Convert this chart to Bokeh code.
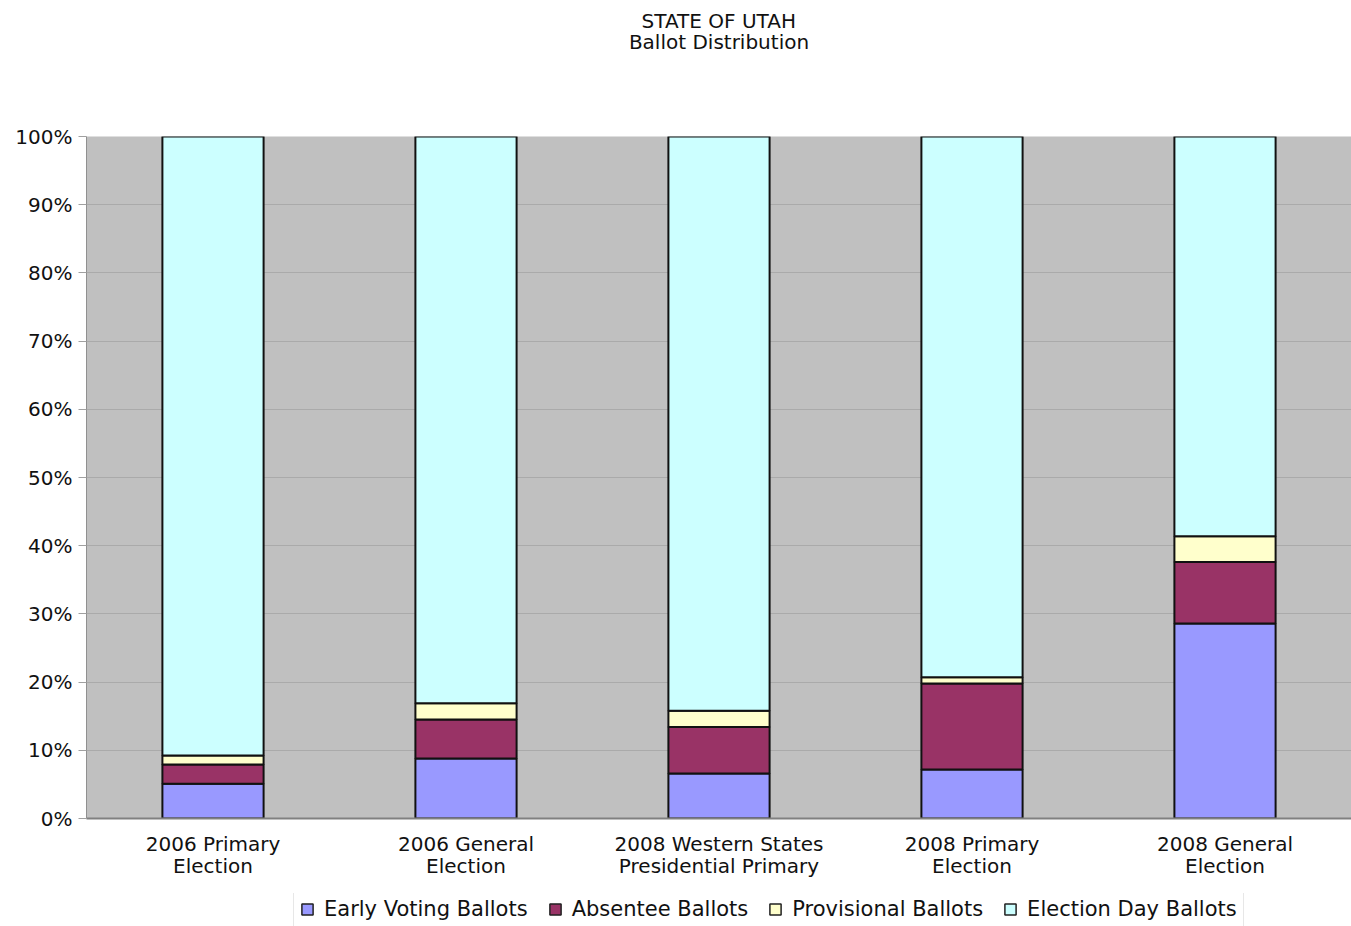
from bokeh.plotting import figure
from bokeh.models import FactorRange, Title, Legend, LegendItem, FixedTicker, Range1d
from bokeh.layouts import column
from bokeh.embed import file_html
from bokeh.resources import INLINE

categories = ["2006 Primary\nElection", "2006 General\nElection",
              "2008 Western States\nPresidential Primary",
              "2008 Primary\nElection", "2008 General\nElection"]
early_voting = [5.1, 8.8, 6.6, 7.2, 28.6]
absentee = [2.8, 5.7, 6.8, 12.6, 9.0]
provisional = [1.35, 2.4, 2.4, 0.9, 3.8]
election_day = [90.75, 83.1, 84.2, 79.3, 58.6]
series_names = ["Early Voting Ballots", "Absentee Ballots",
                "Provisional Ballots", "Election Day Ballots"]
colors = ["#9999ff", "#993366", "#ffffcc", "#ccffff"]
y_ticks = [0, 10, 20, 30, 40, 50, 60, 70, 80, 90, 100]
title_text = "\u00a0\u00a0STATE OF UTAH\nBallot Distribution"

FONT = "DejaVu Sans"

data = {"cat": categories, "early": early_voting, "absentee": absentee,
        "provisional": provisional, "election_day": election_day}
keys = ["early", "absentee", "provisional", "election_day"]

p = figure(x_range=FactorRange(*categories), y_range=(0, 100),
           width=1351, height=893,
           min_border_left=86, min_border_right=0,
           min_border_top=0, min_border_bottom=75,
           output_backend="svg", toolbar_location=None,
           border_fill_color="#ffffff", outline_line_color=None)
p.x_range.range_padding = 0
p.background_fill_color = "#c0c0c0"

renderers = p.vbar_stack(keys, x="cat", width=0.4, source=data,
                         fill_color=colors, line_color="#111111", line_width=2)

spacer = Title(text="\u00a0", text_font=FONT, text_font_size="20px", standoff=50)
p.add_layout(spacer, "above")
t = Title(text=title_text, align="center", text_font=FONT,
          text_font_size="20px", text_font_style="normal", text_color="#111111",
          text_line_height=0.9, standoff=12)
p.add_layout(t, "above")

# axes
p.yaxis.ticker = FixedTicker(ticks=y_ticks)
p.yaxis.major_label_overrides = {t: f"{t}%" for t in y_ticks}
p.yaxis.major_label_text_font = FONT
p.yaxis.major_label_text_font_size = "20px"
p.yaxis.major_label_text_color = "#111111"
p.yaxis.axis_line_color = "#909090"
p.yaxis.major_tick_line_color = "#a0a0a0"
p.yaxis.major_tick_out = 8
p.yaxis.major_tick_in = 0
p.yaxis.minor_tick_line_color = None
p.yaxis.major_label_standoff = 6

p.xaxis.major_label_text_font = FONT
p.xaxis.major_label_text_font_size = "20px"
p.xaxis.major_label_text_line_height = 0.92
p.xaxis.major_label_text_color = "#111111"
p.xaxis.axis_line_color = "#808080"
p.xaxis.axis_line_width = 2
p.xaxis.major_tick_line_color = None
p.xaxis.major_label_standoff = 7

p.xgrid.grid_line_color = None
p.ygrid.grid_line_color = "#aaaaaa"
p.ygrid.grid_line_width = 1

# legend strip below the chart (swatch renderers sit outside the visible range)
lg = figure(width=1351, height=40, x_range=Range1d(0, 1), y_range=Range1d(0, 1),
            min_border_left=0, min_border_right=0, min_border_top=0, min_border_bottom=0,
            x_axis_location=None, y_axis_location=None,
            output_backend="svg", toolbar_location=None,
            background_fill_color="#ffffff", border_fill_color="#ffffff",
            outline_line_color=None)
lg.grid.visible = False
swatches = [lg.vbar(x=[-5], top=[0], bottom=[0], width=0.1, fill_color=c,
                    line_color="#222222", line_width=1.5) for c in colors]

legend = Legend(items=[LegendItem(label=n, renderers=[r]) for n, r in zip(series_names, swatches)],
                orientation="horizontal", location=(207, 5),
                label_text_font=FONT, label_text_font_size="21px",
                label_text_color="#111111", label_height=22,
                glyph_width=14, glyph_height=14, label_standoff=10, spacing=20,
                border_line_color="#cfcfcf", border_line_width=1,
                background_fill_color="#ffffff",
                padding=6, margin=0)
lg.add_layout(legend, "center")

layout = column(p, lg, spacing=0)
open("out.html", "w").write(file_html(layout, INLINE))
